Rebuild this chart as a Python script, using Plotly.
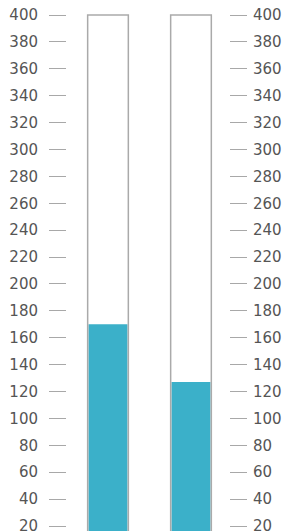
import plotly.graph_objects as go

categories = ["A", "B"]
values = [170, 127]
max_values = [400, 400]
tick_vals = list(range(20, 401, 20))
tick_text = [str(v) for v in tick_vals]

fill_color = "#3bb0c9"
outline_color = "#aaaaaa"
yr = [16.28, 409.67]

fig = go.Figure()
fig.add_trace(go.Bar(x=categories, y=values, width=0.47, marker=dict(color=fill_color, line=dict(width=0)),
                     hoverinfo="skip", showlegend=False))
fig.add_trace(go.Bar(x=categories, y=max_values, width=0.49,
                     marker=dict(color="rgba(0,0,0,0)", line=dict(color=outline_color, width=1.5)),
                     hoverinfo="skip", showlegend=False))
fig.add_trace(go.Scatter(x=categories, y=values, yaxis="y2", mode="markers",
                         marker=dict(opacity=0), hoverinfo="skip", showlegend=False))

axis_common = dict(range=yr, tickmode="array", tickvals=tick_vals, ticktext=tick_text,
                   ticks="outside", ticklen=17, tickwidth=1, tickcolor="#a8a8a8",
                   showgrid=False, zeroline=False, showline=False, automargin=False,
                   ticklabeloverflow="allow",
                   tickfont=dict(family="DejaVu Sans", size=15, color="#555555"),
                   fixedrange=True)

fig.update_layout(
    width=284, height=531,
    margin=dict(l=67, r=55, t=2, b=0, autoexpand=False),
    paper_bgcolor="white", plot_bgcolor="white",
    barmode="overlay",
    xaxis=dict(visible=False, range=[-0.494, 1.458]),
    yaxis=dict(side="left", ticklabelstandoff=8, **axis_common),
    yaxis2=dict(side="right", overlaying="y", ticklabelstandoff=3, **axis_common),
)

fig.write_html("out.html", config={"displayModeBar": False},
               post_script="document.body.style.margin='0';document.body.style.overflow='hidden';")
